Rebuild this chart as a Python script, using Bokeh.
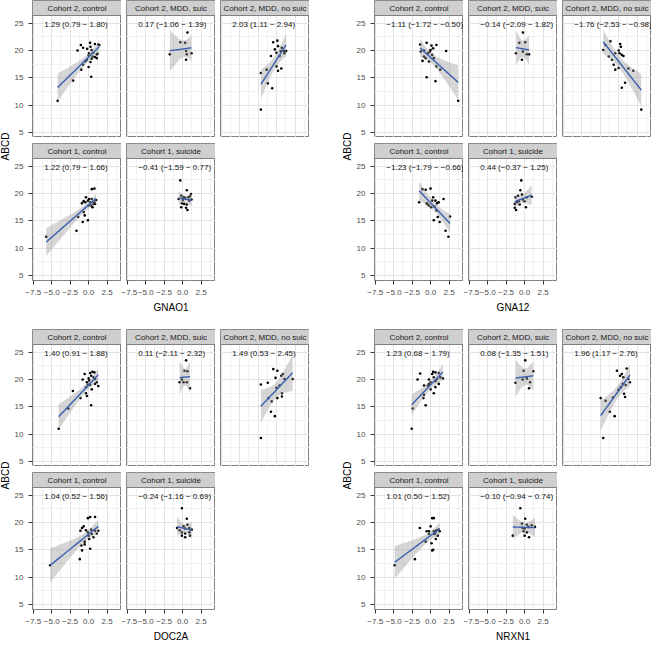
import numpy as np
from bokeh.plotting import figure
from bokeh.layouts import row, column
from bokeh.models import Range1d, FixedTicker, Spacer
from bokeh.core.properties import value
from bokeh.embed import file_html
from bokeh.resources import INLINE

# ---------------- data ----------------
facet_labels = ["Cohort 2, control", "Cohort 2, MDD, suic", "Cohort 2, MDD, no suic",
                "Cohort 1, control", "Cohort 1, suicide"]
genes = ["GNAO1", "GNA12", "DOC2A", "NRXN1"]
y_title = "ABCD"
x_ticks = [-7.5, -5.0, -2.5, 0.0, 2.5]
x_tick_labels = ["\u22127.5", "\u22125.0", "\u22122.5", "0.0", "2.5"]
y_ticks = [5, 10, 15, 20, 25]
y_tick_labels = ["5", "10", "15", "20", "25"]

# GNAO1
GNAO1_c2_ctrl_x = [-4.2, -2.1, -1.0, -0.75, 0.0, 0.35, -1.5, -1.05, -0.75, -0.2, 0.2, 0.25, 0.4, 0.6, 0.85, 1.3, 1.45, 1.1, 0.85, 1.1, 0.4, 0.0, -0.25, 0.05, 0.55, -0.45, 1.2, 0.25]
GNAO1_c2_ctrl_y = [10.8, 14.5, 16.5, 17.4, 17.0, 15.2, 20.0, 21.0, 20.5, 20.3, 21.4, 20.7, 20.1, 19.6, 21.2, 21.1, 21.0, 19.3, 18.8, 18.6, 18.5, 19.1, 18.3, 19.5, 18.9, 18.0, 19.4, 17.9]
GNAO1_c2_suic_x = [-1.73, -0.32, 0.34, 0.65, 0.47, 0.56, 0.47, 1.2]
GNAO1_c2_suic_y = [19.3, 21.5, 21.4, 23.3, 19.9, 19.3, 18.3, 19.5]
GNAO1_c2_nosuic_x = [-2.13, -2.13, -1.35, -1.2, -0.6, -0.47, 0.1, -0.24, -0.02, 0.19, 0.54, 0.7, 0.97, 1.28, 1.06, -0.02, 0.19, 0.63, -0.77, 0.4]
GNAO1_c2_nosuic_y = [9.2, 15.9, 16.5, 14.0, 13.1, 21.5, 21.8, 20.2, 19.6, 20.8, 19.9, 20.5, 19.9, 19.9, 19.5, 17.1, 16.3, 16.7, 19.0, 19.0]
GNAO1_c1_ctrl_x = [-5.74, -1.64, -1.42, -0.8, -0.54, -0.67, -0.1, -0.36, -0.67, -0.45, -0.1, 0.21, 0.43, 0.78, 0.43, 0.65, 0.34, 0.74, 0.87, 0.52, 1.0, -0.01, 0.07, -0.9]
GNAO1_c1_ctrl_y = [12.1, 13.2, 15.7, 14.8, 16.0, 16.6, 15.1, 19.3, 18.6, 18.4, 18.7, 18.4, 20.8, 20.9, 19.0, 18.1, 17.8, 18.4, 18.1, 17.5, 18.8, 17.8, 19.0, 18.2]
GNAO1_c1_suic_x = [-0.32, 0.56, -0.19, 0.12, 0.34, 0.78, 1.0, 1.2, -0.1, 0.2, 0.56, -0.19, 0.47, 0.65, -0.54, 0.03, 0.91, 1.13]
GNAO1_c1_suic_y = [22.4, 20.6, 19.6, 19.3, 19.2, 19.3, 19.5, 18.9, 18.2, 18.1, 18.0, 17.5, 17.4, 17.0, 19.0, 18.8, 18.7, 19.9]
GNAO1_labels = ["1.29 (0.79 \u2212 1.80)", "0.17 (\u22121.06 \u2212 1.39)", "2.03 (1.11 \u2212 2.94)",
                "1.22 (0.79 \u2212 1.66)", "\u22120.41 (\u22121.59 \u2212 0.77)"]

# GNA12
GNA12_c2_ctrl_x = [-1.42, -0.54, 0.12, 0.34, -0.01, 0.78, 2.1, -1.33, -0.9, -1.1, -0.67, -0.23, 0.43, 0.78, 1.3, -0.54, 0.65, 3.73, -0.36, 0.21, -0.9, -0.1]
GNA12_c2_ctrl_y = [21.1, 21.4, 20.9, 20.4, 20.1, 21.0, 19.9, 19.8, 18.9, 18.1, 18.6, 18.0, 18.6, 17.1, 16.5, 15.1, 14.4, 10.8, 19.5, 19.2, 20.0, 19.8]
GNA12_c2_suic_x = [-0.23, -0.72, 0.08, -1.16, -0.23, 0.3, -0.36, 0.6]
GNA12_c2_suic_y = [23.3, 21.4, 21.5, 19.5, 19.8, 19.3, 18.3, 19.3]
GNA12_c2_nosuic_x = [3.07, 0.43, 0.87, -2.08, -1.78, -1.11, -1.33, -0.9, -0.67, -0.45, 0.0, 0.21, 0.3, 0.12, 0.43, 0.65, 1.32, 1.98, 0.0, -0.45]
GNA12_c2_nosuic_y = [9.2, 13.2, 14.1, 20.1, 21.0, 21.7, 18.9, 18.3, 17.4, 16.5, 16.8, 21.2, 20.7, 19.5, 19.2, 19.0, 16.7, 16.3, 20.0, 19.5]
GNA12_c1_ctrl_x = [-1.55, -1.11, -0.67, -0.01, 0.34, -0.45, -0.23, 0.21, 0.65, 0.87, 1.09, 1.75, 0.43, 1.22, 0.78, 0.96, 2.02, 2.41, 2.63, 0.08, 0.52, -0.54]
GNA12_c1_ctrl_y = [18.4, 20.8, 20.7, 20.9, 19.3, 18.1, 17.8, 18.7, 18.7, 18.2, 18.4, 19.0, 15.1, 14.8, 16.9, 15.7, 13.2, 12.1, 15.8, 17.5, 17.6, 18.2]
GNA12_c1_suic_x = [-0.45, -0.58, -1.24, -0.89, -0.36, 0.3, 0.96, -1.33, -1.02, -0.67, -1.33, -1.16, 0.17, -0.27, -0.8, -0.01]
GNA12_c1_suic_y = [22.4, 20.6, 19.3, 19.6, 19.8, 19.3, 19.4, 18.1, 18.4, 18.0, 17.4, 17.0, 17.5, 18.9, 18.6, 18.6]
GNA12_labels = ["\u22121.11 (\u22121.72 \u2212 \u22120.50)", "\u22120.14 (\u22122.09 \u2212 1.82)", "\u22121.76 (\u22122.53 \u2212 \u22120.98)",
                "\u22121.23 (\u22121.79 \u2212 \u22120.66)", "0.44 (\u22120.37 \u2212 1.25)"]

# DOC2A
DOC2A_c2_ctrl_x = [-4.06, -2.74, -2.13, -1.11, -0.36, -0.23, 0.34, -0.8, -0.54, -0.23, 0.0, 0.21, 0.52, 0.78, 0.21, 0.43, 0.87, 1.1, 1.3, 0.65, -0.36, 0.08, -0.1, 0.87, 0.34]
DOC2A_c2_ctrl_y = [11.0, 14.7, 17.9, 16.6, 17.5, 17.0, 15.3, 20.0, 21.0, 19.5, 20.2, 21.2, 21.4, 21.3, 19.0, 18.2, 19.2, 19.5, 18.8, 20.4, 18.6, 19.8, 19.1, 20.1, 20.7]
DOC2A_c2_suic_x = [0.47, 0.25, 0.65, -0.41, -0.1, 0.12, 0.56, 1.0]
DOC2A_c2_suic_y = [23.5, 21.6, 21.5, 19.5, 20.0, 19.5, 19.5, 18.4]
DOC2A_c2_nosuic_x = [-2.13, -2.13, -1.2, -0.77, -0.24, -1.11, -0.67, -0.45, 0.1, -0.15, 0.63, 0.85, 0.41, 0.1, 0.72, 0.72, 1.06, 2.17, -0.02]
DOC2A_c2_nosuic_y = [9.3, 19.1, 19.4, 14.1, 13.3, 16.6, 16.0, 21.9, 21.6, 20.3, 20.7, 21.0, 18.9, 16.6, 17.5, 16.9, 20.1, 20.1, 18.5]
DOC2A_c1_ctrl_x = [-5.21, -1.2, -0.98, -0.89, -0.54, -0.54, 0.21, -1.11, -0.89, -0.67, -0.36, -0.1, -0.1, 0.21, 0.87, -0.01, 0.43, 0.65, 0.87, 1.1, 1.31, 0.08, 0.34]
DOC2A_c1_ctrl_y = [12.2, 13.3, 15.8, 14.9, 16.5, 16.0, 15.2, 18.5, 19.0, 19.3, 18.6, 18.2, 20.8, 21.0, 21.0, 17.6, 17.9, 17.3, 18.5, 18.0, 18.5, 17.0, 18.7]
DOC2A_c1_suic_x = [-0.1, 0.56, -0.76, 0.12, 0.65, 0.91, 1.22, -0.1, 0.34, -0.1, 0.34, 1.0, 0.91, -0.41, 0.34]
DOC2A_c1_suic_y = [22.6, 20.7, 19.0, 19.3, 19.6, 19.0, 18.7, 18.2, 18.0, 17.6, 17.3, 17.6, 18.2, 18.6, 18.9]
DOC2A_labels = ["1.40 (0.91 \u2212 1.88)", "0.11 (\u22122.11 \u2212 2.32)", "1.49 (0.53 \u2212 2.45)",
                "1.04 (0.52 \u2212 1.56)", "\u22120.24 (\u22121.16 \u2212 0.69)"]

# NRXN1
NRXN1_c2_ctrl_x = [-2.57, -2.43, -1.42, -1.77, -0.89, -0.89, -0.98, -0.67, -0.36, -0.23, 0.0, 0.21, 0.34, 0.65, 0.43, 0.65, 0.87, 1.1, 1.31, 1.66, 0.65, 0.43, 0.0, 1.1, -0.23]
NRXN1_c2_ctrl_y = [11.0, 14.7, 21.1, 20.0, 18.9, 17.2, 16.6, 15.3, 18.9, 20.0, 19.5, 21.0, 21.4, 21.3, 20.4, 19.7, 20.1, 21.2, 20.4, 20.2, 18.6, 17.5, 18.2, 19.2, 19.2]
NRXN1_c2_suic_x = [0.08, -0.14, 1.18, -1.24, -0.27, 0.3, 0.74, 0.6]
NRXN1_c2_suic_y = [23.5, 21.6, 21.5, 19.4, 20.0, 20.2, 19.5, 18.4]
NRXN1_c2_nosuic_x = [-2.08, -2.43, -1.77, -1.2, -0.54, -0.76, -0.23, 0.21, 0.43, 0.65, 0.3, 0.87, 1.09, 1.31, 0.74, 1.53, 0.96, -0.01, 0.56]
NRXN1_c2_nosuic_y = [9.3, 16.6, 16.1, 14.1, 13.3, 16.7, 21.6, 20.7, 21.0, 20.4, 18.6, 16.8, 22.0, 20.1, 17.4, 19.5, 19.0, 18.1, 19.2]
NRXN1_c1_ctrl_x = [-4.86, -2.13, -1.47, -0.67, -0.54, -0.23, 0.0, 0.21, 0.43, 0.12, 0.34, 0.21, 0.43, 0.65, 0.78, 0.96, 0.7, 1.09, 1.22, -0.23, 0.52]
NRXN1_c1_ctrl_y = [12.2, 13.3, 19.0, 16.5, 18.4, 18.4, 19.3, 20.8, 20.8, 16.2, 15.0, 14.9, 18.4, 18.2, 18.6, 17.6, 17.0, 18.7, 18.4, 17.9, 17.9]
NRXN1_c1_suic_x = [-0.58, -1.6, 0.08, -0.36, 0.3, 0.0, 0.52, 1.4, -0.14, 0.3, 0.0, 0.6, -0.27, 0.96]
NRXN1_c1_suic_y = [22.6, 17.6, 20.7, 19.8, 19.6, 18.9, 19.2, 19.2, 18.4, 18.2, 17.6, 17.3, 19.0, 19.5]
NRXN1_labels = ["1.23 (0.68 \u2212 1.79)", "0.08 (\u22121.35 \u2212 1.51)", "1.96 (1.17 \u2212 2.76)",
                "1.01 (0.50 \u2212 1.52)", "\u22120.10 (\u22120.94 \u2212 0.74)"]

GENE_X = {
    "GNAO1": [GNAO1_c2_ctrl_x, GNAO1_c2_suic_x, GNAO1_c2_nosuic_x, GNAO1_c1_ctrl_x, GNAO1_c1_suic_x],
    "GNA12": [GNA12_c2_ctrl_x, GNA12_c2_suic_x, GNA12_c2_nosuic_x, GNA12_c1_ctrl_x, GNA12_c1_suic_x],
    "DOC2A": [DOC2A_c2_ctrl_x, DOC2A_c2_suic_x, DOC2A_c2_nosuic_x, DOC2A_c1_ctrl_x, DOC2A_c1_suic_x],
    "NRXN1": [NRXN1_c2_ctrl_x, NRXN1_c2_suic_x, NRXN1_c2_nosuic_x, NRXN1_c1_ctrl_x, NRXN1_c1_suic_x],
}
GENE_Y = {
    "GNAO1": [GNAO1_c2_ctrl_y, GNAO1_c2_suic_y, GNAO1_c2_nosuic_y, GNAO1_c1_ctrl_y, GNAO1_c1_suic_y],
    "GNA12": [GNA12_c2_ctrl_y, GNA12_c2_suic_y, GNA12_c2_nosuic_y, GNA12_c1_ctrl_y, GNA12_c1_suic_y],
    "DOC2A": [DOC2A_c2_ctrl_y, DOC2A_c2_suic_y, DOC2A_c2_nosuic_y, DOC2A_c1_ctrl_y, DOC2A_c1_suic_y],
    "NRXN1": [NRXN1_c2_ctrl_y, NRXN1_c2_suic_y, NRXN1_c2_nosuic_y, NRXN1_c1_ctrl_y, NRXN1_c1_suic_y],
}
GENE_LABELS = {"GNAO1": GNAO1_labels, "GNA12": GNA12_labels, "DOC2A": DOC2A_labels, "NRXN1": NRXN1_labels}

# ---------------- style / geometry ----------------
FONT = "Liberation Sans"
FACET_W = 89
PLOT_H = 122
STRIP_H = 15
ROW_GAP = 6
COL_GAP = 5
YAX_W = 21
YLAB_W = 11
XAX_H = 20
XLAB_H = 11
PANEL_GAP_X = 33
PANEL_GAP_Y = 18

X_LO, X_HI = -7.6, 4.45
Y_LO, Y_HI = 4.1, 26.4
Y_TOP = Y_HI + STRIP_H * (Y_HI - Y_LO) / PLOT_H
ANNOT_X, ANNOT_Y = -6.0, 24.8
X_MINOR = [-6.25, -3.75, -1.25, 1.25, 3.75]
Y_MINOR = [7.5, 12.5, 17.5, 22.5]

GRID_MAJOR = "#e3e3e3"
GRID_MINOR = "#f1f1f1"
BORDER = "#808080"
STRIP_FILL = "#cfcfcf"
LINE_BLUE = "#3b5fae"
BAND_FILL = "#999999"
TICK_TXT = "#4d4d4d"


def t_quantile(df):
    z = 1.959964
    g1 = (z ** 3 + z) / 4
    g2 = (5 * z ** 5 + 16 * z ** 3 + 3 * z) / 96
    g3 = (3 * z ** 7 + 19 * z ** 5 + 17 * z ** 3 - 15 * z) / 384
    return z + g1 / df + g2 / df ** 2 + g3 / df ** 3


def lm_band(xs, ys):
    x = np.asarray(xs, float)
    y = np.asarray(ys, float)
    n = len(x)
    b, a = np.polyfit(x, y, 1)
    xg = np.linspace(x.min(), x.max(), 80)
    yhat = a + b * xg
    resid = y - (a + b * x)
    s = np.sqrt(np.sum(resid ** 2) / (n - 2))
    sxx = np.sum((x - x.mean()) ** 2)
    se = s * np.sqrt(1.0 / n + (xg - x.mean()) ** 2 / sxx)
    t = t_quantile(n - 2)
    return xg, yhat, yhat - t * se, yhat + t * se


def make_facet(xs, ys, strip, label, show_y, show_x, top_pad):
    left = YAX_W if show_y else COL_GAP
    bottom = XAX_H if show_x else 0
    p = figure(width=left + FACET_W, height=top_pad + STRIP_H + PLOT_H + bottom,
               x_range=Range1d(X_LO, X_HI), y_range=Range1d(Y_LO, Y_TOP),
               x_axis_location="below" if show_x else None,
               y_axis_location="left" if show_y else None,
               output_backend="svg", toolbar_location=None, title=None,
               min_border_left=left, min_border_right=0,
               min_border_top=top_pad, min_border_bottom=bottom)
    p.outline_line_color = BORDER
    p.outline_line_width = 1
    p.background_fill_color = "white"
    p.border_fill_color = "white"
    p.xgrid.ticker = FixedTicker(ticks=x_ticks, minor_ticks=X_MINOR)
    p.ygrid.ticker = FixedTicker(ticks=y_ticks, minor_ticks=Y_MINOR)
    for g in (p.xgrid, p.ygrid):
        g.grid_line_color = GRID_MAJOR
        g.grid_line_width = 1
        g.minor_grid_line_color = GRID_MINOR
        g.minor_grid_line_width = 1
    if show_y:
        ax = p.yaxis[0]
        ax.ticker = FixedTicker(ticks=y_ticks)
        ax.major_label_overrides = {t: l for t, l in zip(y_ticks, y_tick_labels)}
        ax.major_label_standoff = 5
    if show_x:
        ax = p.xaxis[0]
        ax.ticker = FixedTicker(ticks=x_ticks)
        ax.major_label_overrides = {t: l for t, l in zip(x_ticks, x_tick_labels)}
        ax.major_label_standoff = 5
    for ax in list(p.xaxis) + list(p.yaxis):
        ax.axis_line_color = None
        ax.major_tick_line_color = "#333333"
        ax.major_tick_line_width = 1
        ax.major_tick_out = 4
        ax.major_tick_in = 0
        ax.minor_tick_line_color = None
        ax.major_label_text_font = FONT
        ax.major_label_text_font_size = "8px"
        ax.major_label_text_color = TICK_TXT

    # data
    p.scatter(xs, ys, size=2.6, color="black", line_width=0)
    xg, yhat, lo, hi = lm_band(xs, ys)
    p.varea(x=xg, y1=lo, y2=hi, fill_color=BAND_FILL, fill_alpha=0.4)
    p.line(xg, yhat, line_color=LINE_BLUE, line_width=1.4)
    p.text(x=[ANNOT_X], y=[ANNOT_Y], text=[label], text_font=value(FONT),
           text_font_size="8px", text_align="left", text_baseline="middle", text_color="#111111")
    # strip
    p.quad(left=[X_LO], right=[X_HI], bottom=[Y_HI], top=[Y_TOP],
           fill_color=STRIP_FILL, line_color=BORDER, line_width=1)
    p.text(x=[(X_LO + X_HI) / 2], y=[(Y_HI + Y_TOP) / 2], text=[strip], text_font=value(FONT),
           text_font_size="8px", text_align="center", text_baseline="middle", text_color="#1a1a1a")
    return p


def blank_fig(w, h):
    p = figure(width=w, height=h, x_range=Range1d(0, w), y_range=Range1d(0, h),
               x_axis_location=None, y_axis_location=None, output_backend="svg",
               toolbar_location=None, title=None, min_border=0,
               min_border_left=0, min_border_right=0, min_border_top=0, min_border_bottom=0)
    p.grid.visible = False
    p.outline_line_color = None
    p.background_fill_color = "white"
    p.border_fill_color = "white"
    return p


PANEL_H = STRIP_H + PLOT_H + ROW_GAP + STRIP_H + PLOT_H + XAX_H + XLAB_H


def make_panel(gene):
    xs_list = GENE_X[gene]
    ys_list = GENE_Y[gene]
    labels = GENE_LABELS[gene]
    r1 = row(make_facet(xs_list[0], ys_list[0], facet_labels[0], labels[0], True, False, 0),
             make_facet(xs_list[1], ys_list[1], facet_labels[1], labels[1], False, False, 0),
             make_facet(xs_list[2], ys_list[2], facet_labels[2], labels[2], False, False, 0))
    r2 = row(make_facet(xs_list[3], ys_list[3], facet_labels[3], labels[3], True, True, ROW_GAP),
             make_facet(xs_list[4], ys_list[4], facet_labels[4], labels[4], False, True, ROW_GAP))
    xw = YAX_W + 3 * FACET_W + 2 * COL_GAP
    xl = blank_fig(xw, XLAB_H)
    xl.text(x=[YAX_W + FACET_W + COL_GAP + FACET_W / 2], y=[XLAB_H - 5.5], text=[gene],
            text_font=value(FONT), text_font_size="10px", text_align="center",
            text_baseline="middle", text_color="black")
    yl = blank_fig(YLAB_W, PANEL_H)
    yl.text(x=[5], y=[PANEL_H - 146], text=[y_title], angle=np.pi / 2,
            text_font=value(FONT), text_font_size="10px", text_align="center",
            text_baseline="middle", text_color="black")
    return row(yl, column(r1, r2, xl))


panels = [make_panel(g) for g in genes]
p = column(row(panels[0], Spacer(width=PANEL_GAP_X, height=PANEL_H), panels[1]),
           Spacer(width=10, height=PANEL_GAP_Y),
           row(panels[2], Spacer(width=PANEL_GAP_X, height=PANEL_H), panels[3]))

open("out.html", "w").write(file_html(p, INLINE))
